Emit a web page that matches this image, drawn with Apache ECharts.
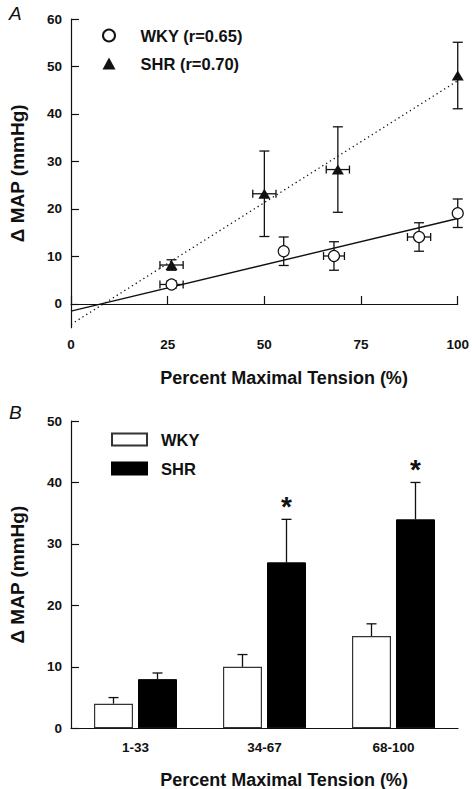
<!DOCTYPE html>
<html><head><meta charset="utf-8">
<script src="https://cdn.jsdelivr.net/npm/echarts@6/dist/echarts.min.js"></script>
<style>html,body{margin:0;padding:0;background:#fff}#c{width:472px;height:789px}</style>
</head><body><div id="c"></div>
<script>
// ---------- Panel A data ----------
const wkyX = [26, 55, 68, 90, 100];
const wkyY = [4.1, 11.1, 10.1, 14.1, 19.1];
const wkyYErr = [0.8, 3, 3, 3, 3];
const wkyXErr = [3, 0, 2.7, 3, 0];
const shrX = [26, 50, 69, 100];
const shrY = [8.2, 23.2, 28.3, 48.1];
const shrYErr = [1.1, 9, 9, 7];
const shrXErr = [3, 3, 3, 0];
const wkyFitX = [0, 100];
const wkyFitY = [-1.5, 18];
const shrFitX = [0, 100];
const shrFitY = [-4.3, 47];
const aXTicks = [0, 25, 50, 75, 100];
const aYTicks = [0, 10, 20, 30, 40, 50, 60];
// ---------- Panel B data ----------
const categories = ['1-33', '34-67', '68-100'];
const wkyBar = [4, 10, 15];
const wkyBarErr = [1, 2, 2];
const shrBar = [8, 27, 34];
const shrBarErr = [1, 7, 6];
const shrSig = [false, true, true];
const bYTicks = [0, 10, 20, 30, 40, 50];

const FONT = '"Liberation Sans", Arial, Helvetica, sans-serif';
const INK = '#111';
const BAR_W = 39, BAR_GAP = 5;

function errorSeriesA(name, xs, ys, xe, ye) {
  return {
    type: 'custom', name: name, xAxisIndex: 0, yAxisIndex: 0, z: 2, silent: true,
    encode: { x: 0, y: 1 },
    data: xs.map((x, i) => [x, ys[i], xe[i], ye[i]]),
    renderItem: function (params, api) {
      const x = api.value(0), y = api.value(1), dx = api.value(2), dy = api.value(3);
      const c = api.coord([x, y]);
      const st = { stroke: INK, lineWidth: 1.3 };
      const ch = [];
      if (dy > 0) {
        const t = api.coord([x, y + dy])[1], b = api.coord([x, y - dy])[1];
        ch.push({ type: 'line', shape: { x1: c[0], y1: t, x2: c[0], y2: b }, style: st });
        ch.push({ type: 'line', shape: { x1: c[0] - 5, y1: t, x2: c[0] + 5, y2: t }, style: st });
        ch.push({ type: 'line', shape: { x1: c[0] - 5, y1: b, x2: c[0] + 5, y2: b }, style: st });
      }
      if (dx > 0) {
        const l = api.coord([x - dx, y])[0], r = api.coord([x + dx, y])[0];
        ch.push({ type: 'line', shape: { x1: l, y1: c[1], x2: r, y2: c[1] }, style: st });
        ch.push({ type: 'line', shape: { x1: l, y1: c[1] - 4, x2: l, y2: c[1] + 4 }, style: st });
        ch.push({ type: 'line', shape: { x1: r, y1: c[1] - 4, x2: r, y2: c[1] + 4 }, style: st });
      }
      return { type: 'group', children: ch };
    }
  };
}

function errorSeriesB(name, vals, errs, offset, sig) {
  return {
    type: 'custom', name: name, xAxisIndex: 1, yAxisIndex: 1, z: 1, silent: true,
    encode: { x: 0, y: 1 },
    data: vals.map((v, i) => [i, v + errs[i], v, sig && sig[i] ? 1 : 0]),
    renderItem: function (params, api) {
      const i = api.value(0);
      const top = api.coord([i, api.value(1)]);
      const base = api.coord([i, api.value(2)]);
      const x = top[0] + offset;
      const st = { stroke: INK, lineWidth: 1.3 };
      const ch = [
        { type: 'line', shape: { x1: x, y1: top[1], x2: x, y2: base[1] }, style: st },
        { type: 'line', shape: { x1: x - 5, y1: top[1], x2: x + 5, y2: top[1] }, style: st }
      ];
      if (api.value(3) === 1) {
        ch.push({ type: 'text', x: x, y: top[1] - 13,
          style: { text: '*', fontSize: 28, fontWeight: 'bold', fontFamily: FONT, fill: INK, align: 'center', verticalAlign: 'middle' } });
      }
      return { type: 'group', children: ch };
    }
  };
}

const axisLineStyle = { color: INK, width: 1.2 };
const tickLabel = { color: INK, fontFamily: FONT, fontWeight: 'bold', fontSize: 13.5 };
const nameStyle = { color: INK, fontFamily: FONT, fontWeight: 'bold', fontSize: 19 };

const chart = echarts.init(document.getElementById('c'), null, { renderer: 'svg' });
chart.setOption({
  animation: false,
  backgroundColor: '#fff',
  grid: [
    { left: 66, top: 19, width: 392, height: 308.7 },
    { left: 66, top: 421, width: 392, height: 307.3 }
  ],
  xAxis: [
    { type: 'value', gridIndex: 0, min: 0, max: 100, interval: 25,
      axisLine: { lineStyle: axisLineStyle }, splitLine: { show: false },
      axisTick: { inside: true, length: 8, lineStyle: axisLineStyle, customValues: aXTicks },
      axisLabel: Object.assign({ margin: 10, customValues: aXTicks }, tickLabel) },
    { type: 'category', gridIndex: 1, data: categories,
      axisLine: { lineStyle: axisLineStyle }, axisTick: { show: false },
      axisLabel: Object.assign({ margin: 12 }, tickLabel) }
  ],
  yAxis: [
    { type: 'value', gridIndex: 0, min: -5, max: 60,
      name: 'Δ MAP (mmHg)', nameLocation: 'middle', nameGap: 44, nameRotate: 90,
      nameTextStyle: nameStyle,
      axisLine: { show: true, lineStyle: axisLineStyle }, splitLine: { show: false },
      axisTick: { show: true, inside: true, length: 8, lineStyle: axisLineStyle, customValues: aYTicks },
      axisLabel: Object.assign({ margin: 9, customValues: aYTicks }, tickLabel) },
    { type: 'value', gridIndex: 1, min: 0, max: 50, interval: 10,
      name: 'Δ MAP (mmHg)', nameLocation: 'middle', nameGap: 44, nameRotate: 90,
      nameTextStyle: nameStyle,
      axisLine: { show: true, lineStyle: axisLineStyle }, splitLine: { show: false },
      axisTick: { show: true, inside: true, length: 8, lineStyle: axisLineStyle },
      axisLabel: Object.assign({ margin: 9 }, tickLabel) }
  ],
  legend: [
    { orient: 'vertical', left: 102, top: 27, itemGap: 11, itemWidth: 13, itemHeight: 12,
      data: ['WKY (r=0.65)', 'SHR (r=0.70)'], selectedMode: false, padding: 0,
      textStyle: { color: INK, fontFamily: FONT, fontWeight: 'bold', fontSize: 16.5, padding: [0, 0, 0, 20] } },
    { orient: 'vertical', left: 111, top: 431, itemGap: 12, itemWidth: 35, itemHeight: 12,
      data: ['WKY', 'SHR'], selectedMode: false, padding: 0, icon: 'rect',
      textStyle: { color: INK, fontFamily: FONT, fontWeight: 'bold', fontSize: 16.5, padding: [0, 0, 0, 9] } }
  ],
  graphic: [
    { type: 'text', left: 9, top: 4, style: { text: 'A', fontSize: 19, fontStyle: 'italic', fontFamily: FONT, fill: INK } },
    { type: 'text', left: 9, top: 403, style: { text: 'B', fontSize: 19, fontStyle: 'italic', fontFamily: FONT, fill: INK } },
    { type: 'text', x: 284, y: 378, style: { text: 'Percent Maximal Tension (%)', fontSize: 18, fontWeight: 'bold', fontFamily: FONT, fill: INK, align: 'center', verticalAlign: 'middle' } },
    { type: 'text', x: 284, y: 780, style: { text: 'Percent Maximal Tension (%)', fontSize: 18, fontWeight: 'bold', fontFamily: FONT, fill: INK, align: 'center', verticalAlign: 'middle' } }
  ],
  series: [
    { type: 'line', name: 'WKY fit', xAxisIndex: 0, yAxisIndex: 0, silent: true, symbol: 'none', z: 1,
      data: wkyFitX.map((x, i) => [x, wkyFitY[i]]), lineStyle: { color: INK, width: 1.4, type: 'solid' } },
    { type: 'line', name: 'SHR fit', xAxisIndex: 0, yAxisIndex: 0, silent: true, symbol: 'none', z: 1,
      data: shrFitX.map((x, i) => [x, shrFitY[i]]), lineStyle: { color: INK, width: 1.3, type: [1.3, 3.2] } },
    errorSeriesA('WKY err', wkyX, wkyY, wkyXErr, wkyYErr),
    errorSeriesA('SHR err', shrX, shrY, shrXErr, shrYErr),
    { type: 'scatter', name: 'WKY (r=0.65)', xAxisIndex: 0, yAxisIndex: 0, z: 3,
      symbol: 'circle', symbolSize: 11,
      itemStyle: { color: '#fff', borderColor: INK, borderWidth: 1.2, opacity: 1 },
      data: wkyX.map((x, i) => [x, wkyY[i]]) },
    { type: 'scatter', name: 'SHR (r=0.70)', xAxisIndex: 0, yAxisIndex: 0, z: 3,
      symbol: 'triangle', symbolSize: [12, 10],
      itemStyle: { color: INK, opacity: 1 },
      data: shrX.map((x, i) => [x, shrY[i]]) },
    { type: 'bar', name: 'WKY', xAxisIndex: 1, yAxisIndex: 1, barWidth: BAR_W, barGap: (BAR_GAP / BAR_W * 100) + '%',
      itemStyle: { color: '#fff', borderColor: '#333', borderWidth: 1.2 }, data: wkyBar },
    { type: 'bar', name: 'SHR', xAxisIndex: 1, yAxisIndex: 1, barWidth: BAR_W,
      itemStyle: { color: '#000', borderColor: '#000', borderWidth: 1 }, data: shrBar },
    errorSeriesB('WKY barerr', wkyBar, wkyBarErr, -(BAR_W + BAR_GAP) / 2, null),
    errorSeriesB('SHR barerr', shrBar, shrBarErr, (BAR_W + BAR_GAP) / 2, shrSig)
  ]
});
</script>
</body></html>
